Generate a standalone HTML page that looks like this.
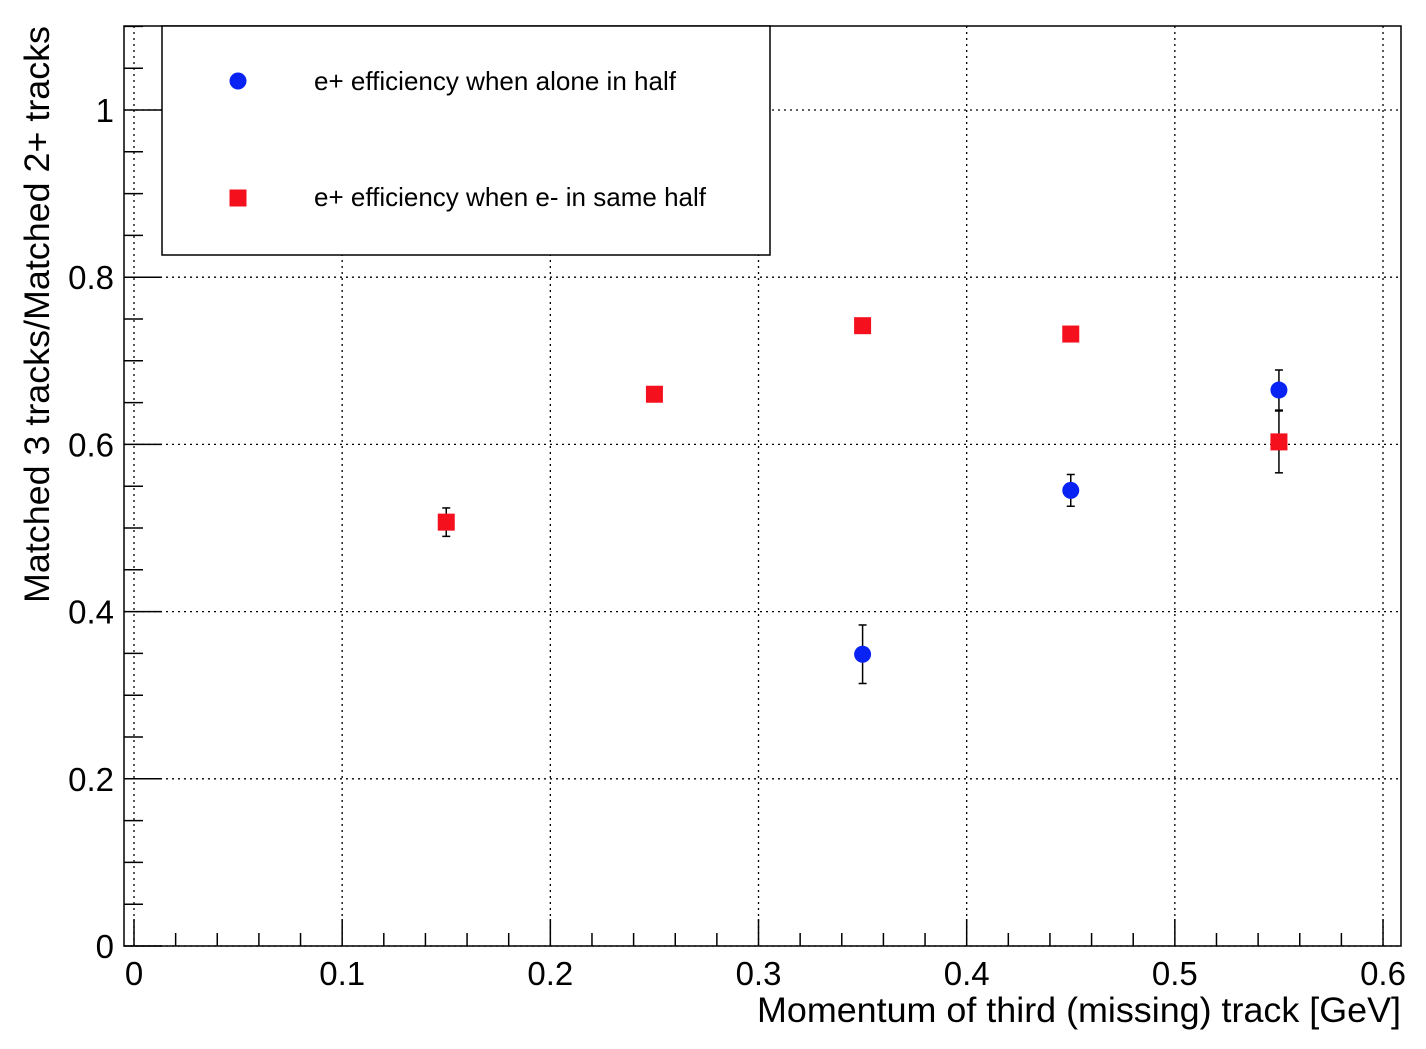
<!DOCTYPE html>
<html><head><meta charset="utf-8"><style>
html,body{margin:0;padding:0;background:#fff;}
svg text{font-family:"Liberation Sans",Arial,sans-serif;}
</style></head><body>
<svg id="chart" width="1426" height="1044" xmlns="http://www.w3.org/2000/svg">
<g id="grid"></g>
<g id="axes"></g>
<g id="marks"></g>
<rect x="124" y="26" width="1277" height="920" fill="none" stroke="#000" stroke-width="1.5"/>
<g>
<rect x="162" y="26" width="608" height="229" fill="#fff" stroke="#000" stroke-width="1.5"/>
<circle cx="238" cy="81" r="8.5" fill="#0a23f5"/>
<text x="314" y="90" font-size="26" textLength="362" lengthAdjust="spacingAndGlyphs">e+ efficiency when alone in half</text>
<rect x="229.5" y="189.5" width="17" height="17" fill="#f5101e"/>
<text x="314" y="206" font-size="26" textLength="392" lengthAdjust="spacingAndGlyphs">e+ efficiency when e- in same half</text>
</g>
<text x="1401" y="1022" font-size="35" text-anchor="end" textLength="644" lengthAdjust="spacingAndGlyphs">Momentum of third (missing) track [GeV]</text>
<text transform="translate(49,26) rotate(-90)" font-size="35" text-anchor="end" textLength="577" lengthAdjust="spacingAndGlyphs">Matched 3 tracks/Matched 2+ tracks</text>
</svg>
<script>
const xTicks=[0,0.1,0.2,0.3,0.4,0.5,0.6];
const xTickLabels=["0","0.1","0.2","0.3","0.4","0.5","0.6"];
const yTicks=[0,0.2,0.4,0.6,0.8,1];
const yTickLabels=["0","0.2","0.4","0.6","0.8","1"];
const blueX=[0.35,0.45,0.55];
const blueY=[0.349,0.545,0.665];
const blueErr=[0.035,0.019,0.024];
const redX=[0.15,0.25,0.35,0.45,0.55];
const redY=[0.507,0.660,0.742,0.732,0.603];
const redErr=[0.017,0.006,0.006,0.006,0.037];
const NS="http://www.w3.org/2000/svg";
const L=124,R=1401,T=26,B=946;
const sx=v=>134+v*2081.7;
const sy=v=>946-v*836;
function mk(tag,attrs,parent){const e=document.createElementNS(NS,tag);for(const k in attrs)e.setAttribute(k,attrs[k]);parent.appendChild(e);return e;}
const grid=document.getElementById('grid'),axes=document.getElementById('axes'),marks=document.getElementById('marks');
xTicks.forEach((v,i)=>{
 const g=mk('line',{x1:sx(v),x2:sx(v),y1:T,y2:B,stroke:'#000','stroke-width':1.3,'stroke-dasharray':'2,4'},grid);
 
 
 const t=mk('line',{x1:sx(v),x2:sx(v),y1:B,y2:B-27,stroke:'#000','stroke-width':1.5},axes);
 
 
 const l=mk('text',{x:sx(v),y:985,'font-size':33,'text-anchor':'middle'},axes);
 l.textContent=xTickLabels[i];
 
 
});
for(let k=0;k<31;k++){const v=k*0.02;if(k%5===0)continue;if(sx(v)>R)break;
 const t=mk('line',{x1:sx(v),x2:sx(v),y1:B,y2:B-13,stroke:'#000','stroke-width':1.5},axes);
 
 }
yTicks.forEach((v,i)=>{
 const g=mk('line',{x1:L,x2:R,y1:sy(v),y2:sy(v),stroke:'#000','stroke-width':1.3,'stroke-dasharray':'2,4'},grid);
 
 
 const t=mk('line',{x1:L,x2:L+38,y1:sy(v),y2:sy(v),stroke:'#000','stroke-width':1.5},axes);
 
 
 const l=mk('text',{x:114,y:sy(v)+12,'font-size':33,'text-anchor':'end'},axes);
 l.textContent=yTickLabels[i];
 
 
});
for(let k=1;k<=22;k++){const v=k*0.05;if(k%4===0)continue;
 const t=mk('line',{x1:L,x2:L+19,y1:sy(v),y2:sy(v),stroke:'#000','stroke-width':1.5},axes);
 
 }
function err(x,y,e,name){
 const g=mk('g',{stroke:'#000','stroke-width':1.5},marks);
 
 
 mk('line',{x1:sx(x),x2:sx(x),y1:sy(y+e),y2:sy(y-e)},g);
 mk('line',{x1:sx(x)-4,x2:sx(x)+4,y1:sy(y+e),y2:sy(y+e)},g);
 mk('line',{x1:sx(x)-4,x2:sx(x)+4,y1:sy(y-e),y2:sy(y-e)},g);
}
blueX.forEach((x,i)=>{err(x,blueY[i],blueErr[i],'blue-error-bar');
 const c=mk('circle',{cx:sx(x),cy:sy(blueY[i]),r:8.5,fill:'#0a23f5'},marks);
 
 });
redX.forEach((x,i)=>{err(x,redY[i],redErr[i],'red-error-bar');
 const r=mk('rect',{x:sx(x)-8.5,y:sy(redY[i])-8.5,width:17,height:17,fill:'#f5101e'},marks);
 
 });
</script>
</body></html>
